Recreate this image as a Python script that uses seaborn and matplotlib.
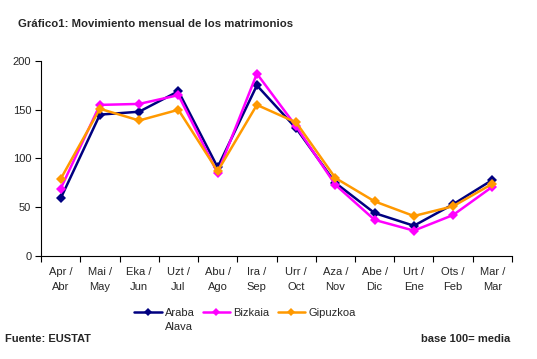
import matplotlib
matplotlib.use("Agg")
import matplotlib.pyplot as plt
import seaborn as sns
import pandas as pd
import numpy as np

months = ["Apr /\nAbr", "Mai /\nMay", "Eka /\nJun", "Uzt /\nJul", "Abu /\nAgo", "Ira /\nSep",
          "Urr /\nOct", "Aza /\nNov", "Abe /\nDic", "Urt /\nEne", "Ots /\nFeb", "Mar /\nMar"]
araba = [59, 145, 148, 169, 91, 175, 131, 75, 44, 31, 53, 78]
bizkaia = [69, 155, 156, 165, 85, 187, 133, 73, 37, 26, 42, 71]
gipuzkoa = [79, 151, 139, 150, 87, 155, 137, 80, 56, 41, 51, 74]
series_names = ["Araba", "Bizkaia", "Gipuzkoa"]
colors = ["#000080", "#FF00FF", "#FF9900"]

rows = []
for name, vals in zip(series_names, [araba, bizkaia, gipuzkoa]):
    for i, v in enumerate(vals):
        rows.append({"pos": i, "value": v, "serie": name})
df = pd.DataFrame(rows)

sns.set_style("white")
plt.rcParams["font.family"] = ["Liberation Sans", "DejaVu Sans"]

fig = plt.figure(figsize=(5.37, 3.59), dpi=100)
ax = fig.add_axes([0.0764, 0.287, 0.877, 0.543])

sns.lineplot(data=df, x="pos", y="value", hue="serie", palette=colors,
             marker="D", markersize=5, markeredgewidth=0, linewidth=1.8,
             sort=False, ax=ax, legend=False)

ax.set_xlim(-0.5, 11.5)
ax.set_ylim(0, 200)
ax.set_yticks([0, 50, 100, 150, 200])
ax.set_xticks(range(12))
ax.set_xticklabels(months, fontsize=8, linespacing=1.6)
ax.set_xticks(np.arange(-0.5, 12, 1), minor=True)
ax.tick_params(axis="x", which="major", bottom=False, length=0, pad=8)
ax.tick_params(axis="x", which="minor", bottom=True, length=4, width=0.8, color="black", direction="out")
ax.tick_params(axis="y", left=True, length=4, width=0.8, color="black", direction="out", labelsize=8, pad=3)
ax.set_xlabel("")
ax.set_ylabel("")
for s in ["top", "right"]:
    ax.spines[s].set_visible(False)
for s in ["left", "bottom"]:
    ax.spines[s].set_color("black")
    ax.spines[s].set_linewidth(0.8)

handles = [plt.Line2D([], [], color=c, marker="D", markersize=4, linewidth=1.8, markeredgewidth=0)
           for c in colors]
leg = fig.legend(handles, series_names, loc="center", bbox_to_anchor=(0.456, 0.128), ncol=3,
                 frameon=False, fontsize=8, handlelength=2.5, handletextpad=0.3, columnspacing=0.7)

fig.canvas.draw()
bb = leg.get_texts()[0].get_window_extent()
inv = fig.transFigure.inverted()
x0, y0 = inv.transform((bb.x0, bb.y0))
fig.text(x0, y0 - 0.012, "Alava", fontsize=8, va="top", ha="left")

fig.text(18 / 537, 1 - 24 / 359, "Gráfico1: Movimiento mensual de los matrimonios",
         fontsize=8.2, fontweight="bold", va="center", ha="left")
fig.text(5 / 537, 1 - 339 / 359, "Fuente: EUSTAT", fontsize=8, fontweight="bold", va="center", ha="left")
fig.text(510 / 537, 1 - 339 / 359, "base 100= media", fontsize=8, fontweight="bold", va="center", ha="right")

fig.savefig("out.png", dpi=100)
